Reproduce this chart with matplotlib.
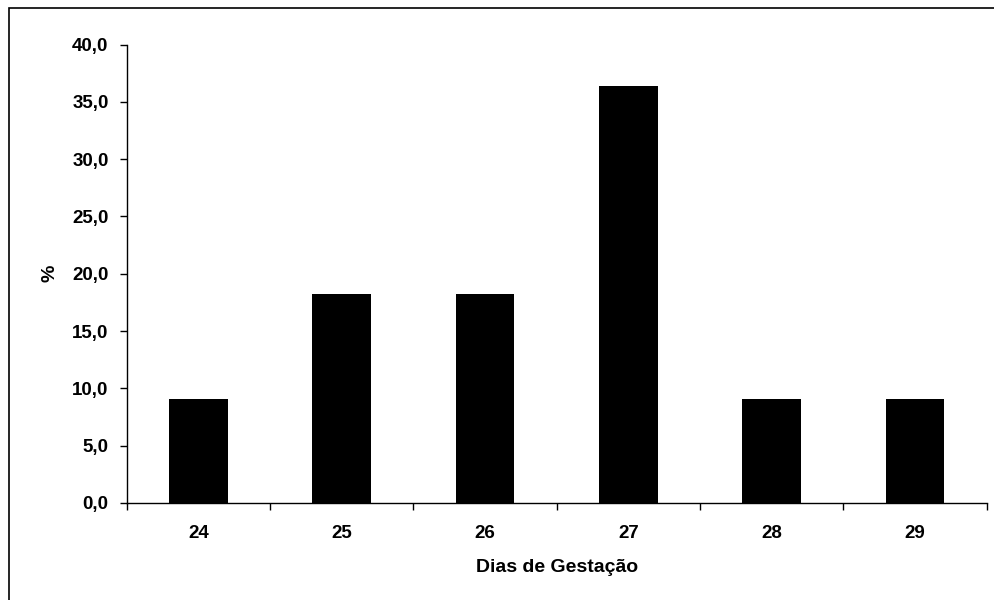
import matplotlib.pyplot as plt
from matplotlib.patches import Rectangle
from matplotlib.ticker import FuncFormatter, FixedLocator

# Gestation days and percentage of animals
dias = ['24', '25', '26', '27', '28', '29']
percent = [9.1, 18.2, 18.2, 36.4, 9.1, 9.1]

plt.rcParams['font.family'] = ['Liberation Sans', 'DejaVu Sans']
plt.rcParams['font.weight'] = 'bold'

fig = plt.figure(figsize=(9.95, 6), dpi=100)
ax = fig.add_axes([0.1273, 0.1617, 0.8644, 0.7641])

# Frame around the chart area (cut off on the right and bottom)
fig.patches.append(Rectangle((9 / 995, -0.05), 1.1, 1.05 - 7.5 / 600,
                             transform=fig.transFigure, fill=False,
                             edgecolor='black', linewidth=1.2))

pos = range(len(dias))
ax.bar(pos, percent, width=0.41, color='black')

ax.set_xlim(-0.5, len(dias) - 0.5)
ax.set_ylim(0, 40)
ax.set_yticks([0, 5, 10, 15, 20, 25, 30, 35, 40])
ax.yaxis.set_major_formatter(FuncFormatter(lambda v, p: f'{v:.1f}'.replace('.', ',')))

# categories labelled at centres, ticks at boundaries
ax.set_xticks(list(pos))
ax.set_xticklabels(dias)
ax.xaxis.set_minor_locator(FixedLocator([i - 0.5 for i in range(len(dias) + 1)]))
ax.tick_params(axis='x', which='major', length=0, pad=16, labelsize=13.5)
ax.tick_params(axis='x', which='minor', length=5, width=1, direction='out')
ax.tick_params(axis='y', length=5, width=1, direction='out', pad=8, labelsize=13.5)

for s in ['top', 'right']:
    ax.spines[s].set_visible(False)
ax.spines['left'].set_linewidth(1)
ax.spines['bottom'].set_linewidth(1)

ax.set_xlabel('Dias de Gestação', fontsize=14, fontweight='bold', labelpad=12)
ax.set_ylabel('%', fontsize=14, fontweight='bold', labelpad=10)

fig.savefig('out.png', dpi=100)
